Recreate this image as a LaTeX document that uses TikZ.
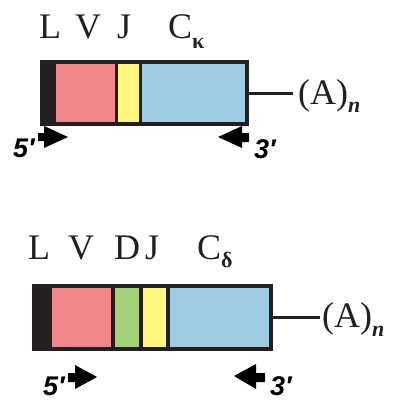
\documentclass[tikz,border=0pt]{standalone}
\usepackage{fontspec}
\setmainfont{Liberation Serif}
\newfontfamily\primefont{Liberation Sans}
\definecolor{dk}{HTML}{231F20}
\definecolor{vred}{HTML}{F2868A}
\definecolor{jyel}{HTML}{FFF57F}
\definecolor{cblue}{HTML}{9DCCE3}
\definecolor{dgreen}{HTML}{A3D279}
\newcommand{\subsc}[2]{\raisebox{-#1pt}{\fontsize{22}{22}\selectfont\bfseries #2}}
\begin{document}
\begin{tikzpicture}[x=1pt,y=-1pt,
  lab/.style={font=\fontsize{36}{36}\selectfont, text=dk, inner sep=0, anchor=base west},
  primelab/.style={font=\primefont\bfseries\itshape\fontsize{27}{27}\selectfont, text=black, inner sep=0, anchor=base west},
  outerbox/.style={fill=dk, draw=none, inner sep=0, anchor=north west},
  seg/.style={draw=none, inner sep=0, anchor=north west},
  conn/.style={draw=dk, line width=2.6pt},
  primer/.style={fill=black, draw=none}
]
\useasboundingbox (0,0) rectangle (394,400);

% ---------- top (light chain, kappa) ----------
\node[outerbox, minimum width=209pt, minimum height=66pt] (box1) at (40,60) {};
\node[seg, fill=vred,  minimum width=59pt,  minimum height=58pt] (v1) at (56,64) {};
\node[seg, fill=jyel,  minimum width=21pt,  minimum height=58pt] (j1) at (118,64) {};
\node[seg, fill=cblue, minimum width=103pt, minimum height=58pt] (c1) at (142,64) {};

\node[lab] (l1lab) at (39,38) {L};
\node[lab] (v1lab) at (75,38) {V};
\node[lab] (j1lab) at (117,38) {J};
\node[lab] (c1lab) at (168,38) {C\subsc{10}{κ}};

\node[lab] (a1) at (298,104) {(A)\raisebox{-8pt}{\fontsize{22}{22}\selectfont\bfseries\itshape n}};
\draw[conn, shorten >=5pt] (box1.east) -- (box1.east -| a1.west);

\fill[primer] (38,133) -- (44,133) -- (44,126) -- (68,137) -- (44,148) -- (44,141) -- (38,141) -- cycle;
\fill[primer] (249,133) -- (242,133) -- (242,126) -- (218,137) -- (242,148) -- (242,142) -- (249,142) -- cycle;
\node[primelab] (p5a) at (13,157) {5′};
\node[primelab] (p3a) at (254,158) {3′};

% ---------- bottom (heavy chain, delta) ----------
\node[outerbox, minimum width=241pt, minimum height=67pt] (box2) at (32,284) {};
\node[seg, fill=vred,   minimum width=59pt, minimum height=59pt] (v2) at (52,288) {};
\node[seg, fill=dgreen, minimum width=24pt, minimum height=59pt] (d2) at (115,288) {};
\node[seg, fill=jyel,   minimum width=23pt, minimum height=59pt] (j2) at (143,288) {};
\node[seg, fill=cblue,  minimum width=99pt, minimum height=59pt] (c2) at (170,288) {};

\node[lab] (l2lab) at (28,259) {L};
\node[lab] (v2lab) at (68,259) {V};
\node[lab] (d2lab) at (114,259) {D};
\node[lab] (j2lab) at (145,259) {J};
\node[lab] (c2lab) at (197,259) {C\subsc{8}{δ}};

\node[lab] (a2) at (322,327) {(A)\raisebox{-9pt}{\fontsize{22}{22}\selectfont\bfseries\itshape n}};
\draw[conn, line width=3pt, shorten >=2pt] (box2.east) -- (box2.east -| a2.west);

\fill[primer] (68,373) -- (75,373) -- (75,365) -- (97,377) -- (75,389) -- (75,382) -- (68,382) -- cycle;
\fill[primer] (265,373) -- (256,373) -- (256,364) -- (234,376) -- (256,389) -- (256,382) -- (265,382) -- cycle;
\node[primelab] (p5b) at (43,395) {5′};
\node[primelab] (p3b) at (270,395) {3′};
\end{tikzpicture}
\end{document}
